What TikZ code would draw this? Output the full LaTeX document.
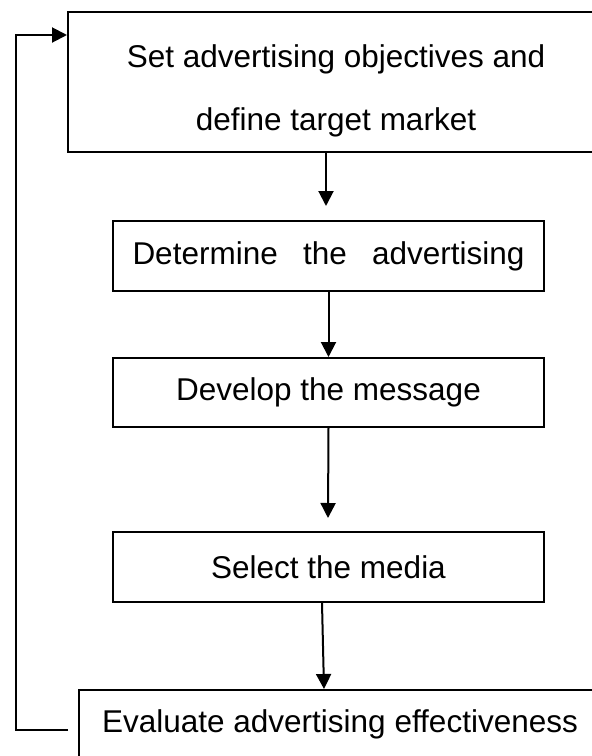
\documentclass[tikz,border=0pt]{standalone}
\usepackage{fontspec}
\setmainfont{Liberation Sans}
\usetikzlibrary{arrows.meta}
\begin{document}
\begin{tikzpicture}[x=1pt,y=-1pt,
  box/.style={draw=black, line width=2pt, inner sep=0pt,
    font=\fontsize{31.5}{63}\selectfont, align=center},
  flow/.style={line width=2pt, -{Triangle[length=15pt,width=15pt]}}]
\useasboundingbox (0,0) rectangle (592,756);
\fill[white] (0,0) rectangle (592,756);
\clip (0,0) rectangle (592,756);

% process steps
\node[box, minimum width=536pt, minimum height=140pt] (b1) at (336,82)
  {\rule{0pt}{40.5pt}Set advertising objectives and\\define target market};
\node[box, minimum width=431pt, minimum height=70pt] (b2) at (328.5,256)
  {\makebox[392pt][s]{Determine the advertising}};
\node[box, minimum width=431pt, minimum height=69pt] (b3) at (328.5,392.5)
  {Develop the message};
\node[box, minimum width=431pt, minimum height=70pt] (b4) at (328.5,567)
  {Select the media};
\node[box, minimum width=522pt, minimum height=68pt] (b5) at (340,724)
  {Evaluate advertising effectiveness};

% arrows between the steps
\coordinate (t12) at (326,206);
\coordinate (t34) at (328,518);
\draw[flow] ([xshift=-10pt]b1.south) -- (t12);
\draw[flow] (b2.south) -- (b3.north);
\draw[flow] (b3.south) -- (t34);
\draw[flow] ([xshift=-6.5pt]b4.south) -- ([xshift=-16pt]b5.north);

% feedback loop back to the first step
\coordinate (fb) at (68,730);
\coordinate (fbtop) at (16,35);
\draw[flow] (fb) -| (fbtop) -- (fbtop -| b1.west);
\end{tikzpicture}
\end{document}
